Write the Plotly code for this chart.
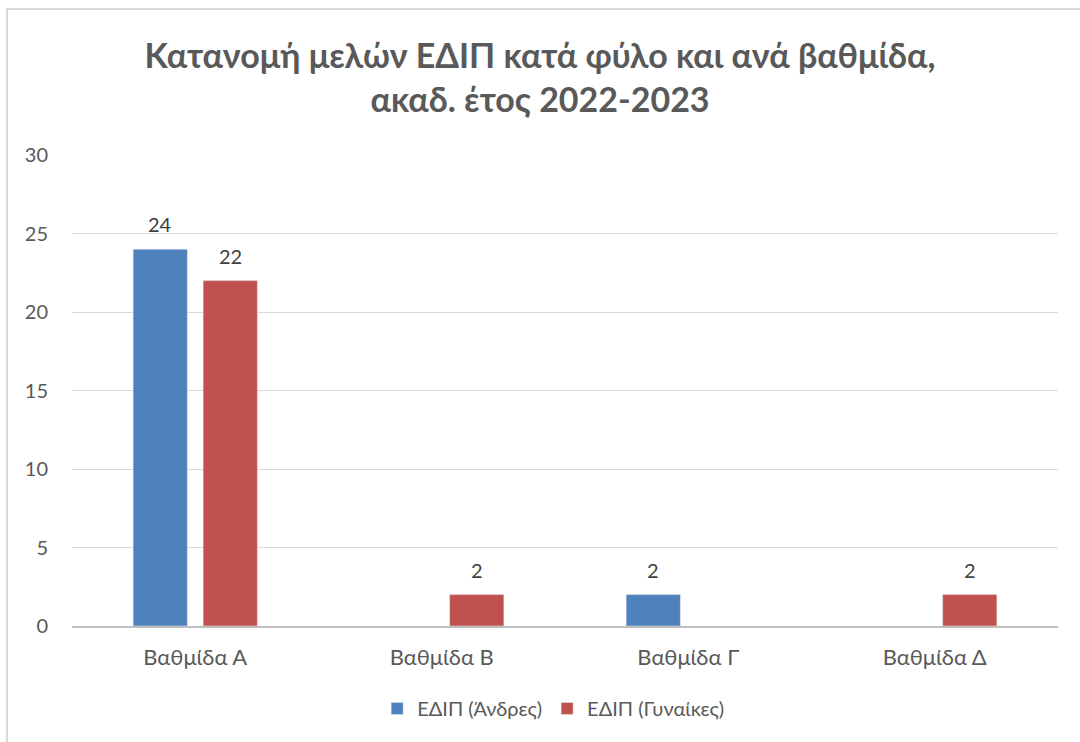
import plotly.graph_objects as go

categories = ["Βαθμίδα Α", "Βαθμίδα Β", "Βαθμίδα Γ", "Βαθμίδα Δ"]
men = [24, None, 2, None]
women = [22, 2, None, 2]
series_names = ["ΕΔΙΠ (Άνδρες)", "ΕΔΙΠ (Γυναίκες)"]
y_ticks = [0, 5, 10, 15, 20, 25, 30]

FONT = "Lato"
BAR_W = 0.22
OFFSETS = [-0.252, 0.032]
COLORS = ["#4F81BD", "#C0504D"]

fig = go.Figure()
for vals, name, off, col in zip([men, women], series_names, OFFSETS, COLORS):
    fig.add_trace(go.Bar(
        x=categories, y=vals, name=name,
        marker=dict(color=col), width=BAR_W, offset=off,
    ))
    # data labels above bars
    for c, v in zip(categories, vals):
        if v is None:
            continue
        fig.add_annotation(
            x=c, y=v, text=str(v), showarrow=False,
            xshift=(off + BAR_W / 2) * 246.5, yshift=11, yanchor="bottom",
            font=dict(family=FONT, size=20, color="#404040"),
        )

fig.update_layout(
    width=1080, height=742,
    paper_bgcolor="white", plot_bgcolor="white",
    barmode="overlay",
    margin=dict(l=72, r=22, t=155, b=116),
    title=dict(
        text="<b>Κατανομή μελών ΕΔΙΠ κατά φύλο και ανά βαθμίδα,<br>ακαδ. έτος 2022-2023</b>",
        x=0.5, xanchor="center", y=1 - 68 / 742, yanchor="middle",
        font=dict(family=FONT, size=34, color="#595959"),
    ),
    font=dict(family=FONT, size=20, color="#595959"),
    xaxis=dict(showgrid=False, showline=True, linecolor="#BFBFBF", linewidth=2,
               ticks="", tickfont=dict(size=22, color="#595959"), range=[-0.5, 3.5],
               ticklabelstandoff=11),
    yaxis=dict(range=[0, 30], tickvals=y_ticks, showgrid=True, gridcolor="#D9D9D9",
               gridwidth=1, zeroline=False, ticks="", ticklen=0,
               tickfont=dict(size=20, color="#595959"), ticklabelstandoff=23),
    legend=dict(orientation="h", x=0.488, xanchor="center", y=-0.175, yanchor="middle",
                font=dict(size=20, color="#595959"), traceorder="normal"),
    shapes=[
        dict(type="line", xref="paper", yref="paper", x0=-0.0659, x1=-0.0659, y0=-0.3, y1=1.312,
             line=dict(color="#D9D9D9", width=2)),
        dict(type="line", xref="paper", yref="paper", x0=-0.0659, x1=1.05, y0=1.31, y1=1.31,
             line=dict(color="#D9D9D9", width=2)),
    ],
)

fig.write_html("out.html", config={"displayModeBar": False},
               post_script="document.body.style.margin='0px';")
